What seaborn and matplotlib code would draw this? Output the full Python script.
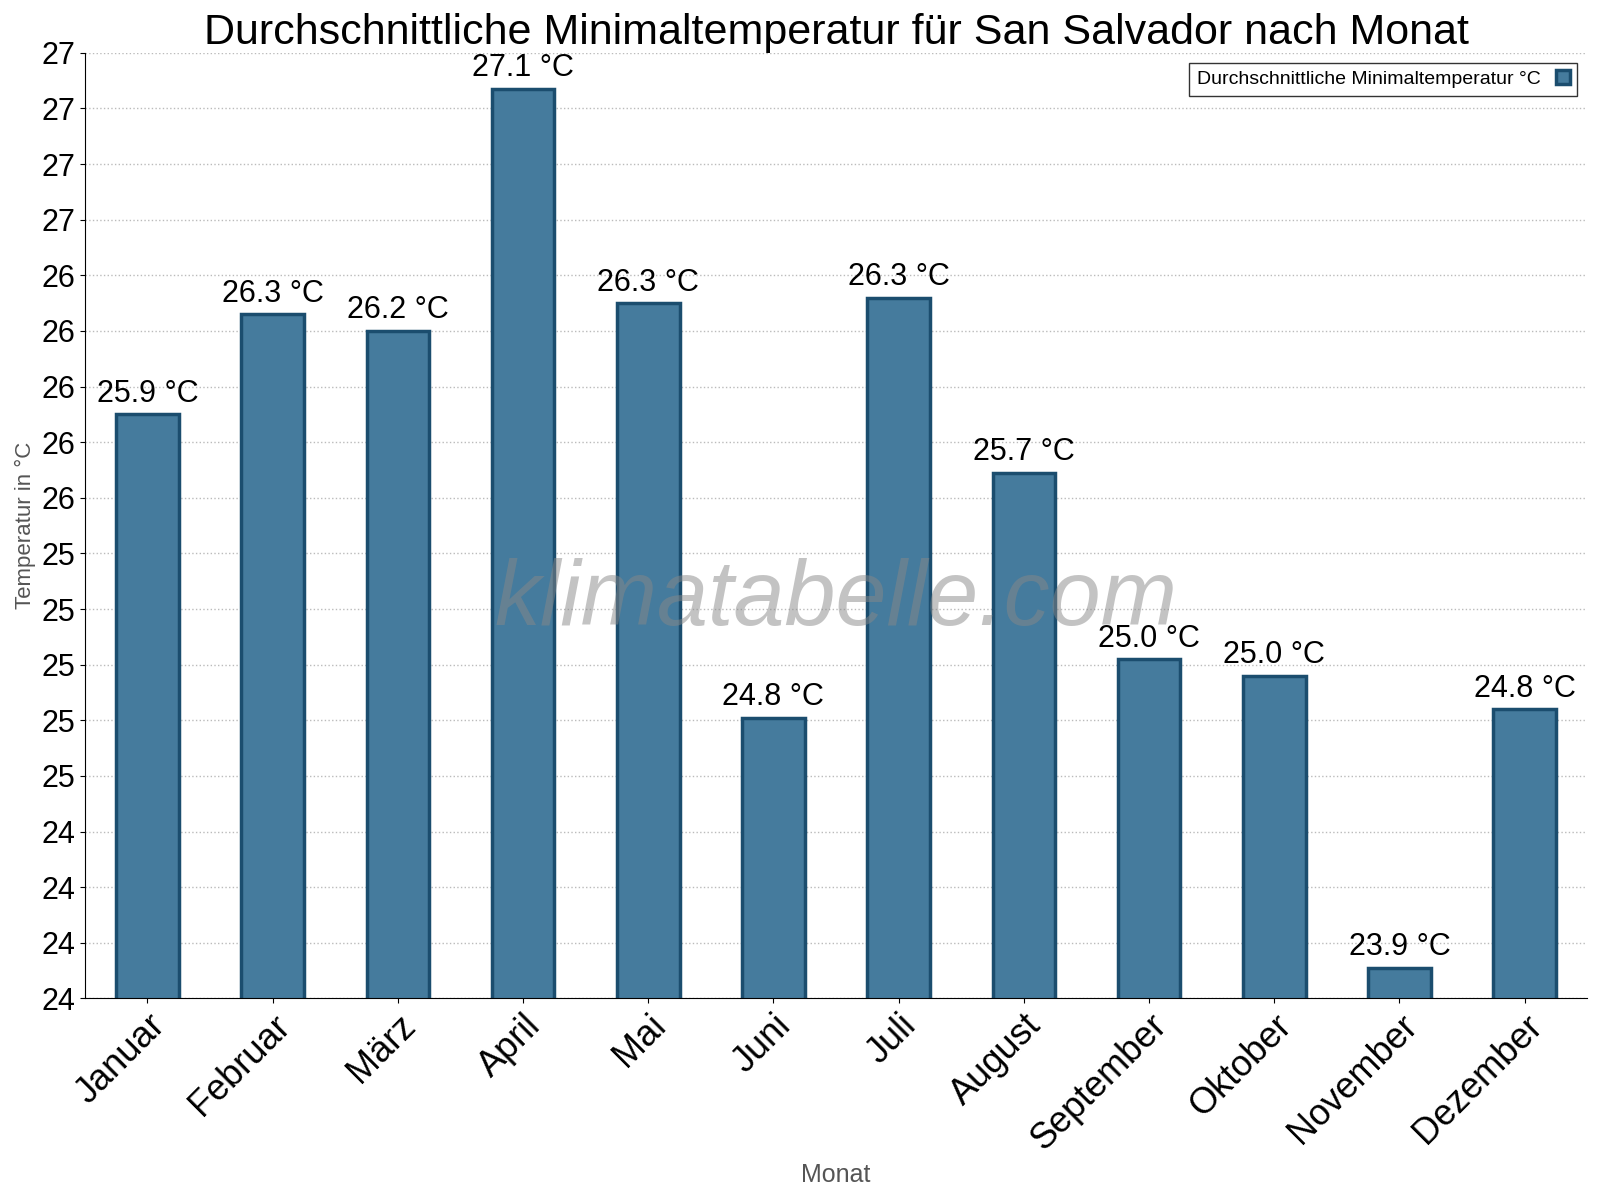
import matplotlib
matplotlib.use("Agg")
import matplotlib.pyplot as plt
import seaborn as sns
import numpy as np
import pandas as pd
from matplotlib.ticker import FixedLocator, FuncFormatter

plt.rcParams["font.family"] = "Liberation Sans"

months = ["Januar","Februar","März","April","Mai","Juni","Juli","August","September","Oktober","November","Dezember"]
temps = [25.9, 26.26, 26.2, 27.07, 26.3, 24.81, 26.32, 25.69, 25.02, 24.96, 23.91, 24.84]
labels = ["25.9","26.3","26.2","27.1","26.3","24.8","26.3","25.7","25.0","25.0","23.9","24.8"]

df = pd.DataFrame({"Monat": months, "T": temps})
fig = plt.figure(figsize=(16, 12), dpi=100)
ax = fig.add_axes([0.053, 0.168, 0.939, 0.788])
sns.barplot(data=df, x="Monat", y="T", ax=ax, color="#457b9d", width=0.5,
            edgecolor="#1b4d6e", linewidth=2.5, saturation=1,
            label="Durchschnittliche Minimaltemperatur °C")
ax.set_ylim(23.8, 27.2)
ticks = [23.8 + 0.2*i for i in range(18)]
ax.yaxis.set_major_locator(FixedLocator(ticks))
ax.yaxis.set_major_formatter(FuncFormatter(lambda v, p: f"{v:.0f}"))
ax.grid(axis="y", linestyle=":", color="#bbbbbb", linewidth=1)
ax.set_axisbelow(True)
for i, (v, l) in enumerate(zip(temps, labels)):
    ax.text(i, v + 0.02, f"{l} °C", ha="center", va="bottom", fontsize=22)
ax.tick_params(axis="y", labelsize=22)
ax.tick_params(axis="x", labelsize=26)
plt.setp(ax.get_xticklabels(), rotation=45, ha="right", rotation_mode="anchor")
ax.set_xlabel("Monat", fontsize=18, color="#555555")
ax.set_ylabel("Temperatur in °C", fontsize=16, color="#555555")
for s in ["top", "right"]:
    ax.spines[s].set_visible(False)
ax.set_title("Durchschnittliche Minimaltemperatur für San Salvador nach Monat", fontsize=31, pad=6)
ax.text(0.5, 0.42, "klimatabelle.com", transform=ax.transAxes, fontsize=66,
        color="#888888", alpha=0.5, style="italic", ha="center", va="center")
leg = ax.legend(loc="upper right", fontsize=14, frameon=True, fancybox=False,
                edgecolor="black", markerfirst=False, handlelength=0.7)
fig.savefig("out.png", dpi=100)
